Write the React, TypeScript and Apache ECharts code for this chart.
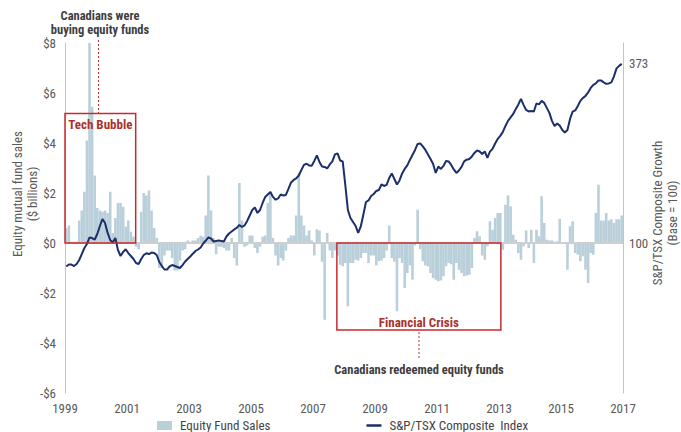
import React, { useEffect, useRef } from "react";
import * as echarts from "echarts";

// Years shown on the horizontal axis (axis values are years since 1999)
const BASE_YEAR = 1999;
const yearTickLabels = [1999, 2001, 2003, 2005, 2007, 2009, 2011, 2013, 2015, 2017];
const salesTickLabels = ["-$6", "-$4", "-$2", "$0", "$2", "$4", "$6", "$8"];
const indexTickLabels = [100, 373];

// Monthly equity mutual fund net sales ($ billions), Jan 1999 - Dec 2016
const sales1999 = [0.6, 0.7, 0.05, 0.05, 0.05, 0.9, 1.3, 2.05, 4.1, 8.0, 5.45, 2.7];
const sales2000 = [1.4, 1.3, 1.25, 1.3, 1.2, 2.05, 0.4, 1.0, 1.6, 1.6, 1.45, 0.65];
const sales2001 = [0.9, 0.45, 0.25, -0.15, -0.25, 1.25, 2.0, 1.9, 2.1, 1.3, 0.6, 0.2];
const sales2002 = [-1.0, -1.0, -0.5, -0.3, -0.3, -0.6, -1.1, -1.1, -0.7, -0.3, -0.25, 0.1];
const sales2003 = [0.05, 0.1, 0.1, 0.2, 0.3, 0.25, 1.1, 2.7, 1.3, 0.2, -0.45, -0.15];
const sales2004 = [-0.15, -0.2, -0.3, -0.3, 0.2, -0.6, -0.9, 2.4, 0.9, -0.15, -0.1, 0.3];
const sales2005 = [0.3, -0.2, -0.4, -0.15, 0.25, 0.3, 1.6, 2.05, 0.2, -0.5, -0.9, -0.6];
const sales2006 = [-0.7, -0.3, 0.2, 0.3, 0.3, 1.1, 2.8, 1.1, 0.7, 0.3, 0.5, 0.1];
const sales2007 = [-0.5, 0.55, 0.5, -0.75, -3.07, 0.4, -0.3, -0.6, -0.3, -0.5, -0.87, -0.93];
const sales2008 = [-0.8, -2.53, -0.8, -0.8, -0.67, -0.7, -0.6, -0.4, -0.4, -0.8, -0.5, -0.5];
const sales2009 = [-0.9, -0.73, -0.7, -0.6, -0.3, 0.7, -0.6, -0.75, -2.73, -0.6, -0.8, -1.8];
const sales2010 = [-1.2, -0.9, -1.47, -0.1, 1.33, -0.25, -0.73, -0.9, -0.93, -1.2, -1.4, -1.47];
const sales2011 = [-1.53, -1.5, -1.33, -0.93, -0.8, -0.85, -1.47, -0.8, -1.07, -1.2, -1.33, -1.3];
const sales2012 = [-1.27, -1.0, 0.2, 0.47, 0.27, -0.5, -0.67, -0.13, 0.87, 0.53, 1.0, 1.2];
const sales2013 = [1.2, -0.27, 1.53, 1.9, 1.47, 0.33, 0.13, -0.4, -0.67, -0.13, 0.5, -0.2];
const sales2014 = [0.53, -0.8, 0.53, 0.27, 1.87, 0.8, 0.13, 0.1, 0.1, 0.05, 0.07, 0.97];
const sales2015 = [0, 0, -1.07, 0.67, 0.87, -0.4, -0.47, -0.73, -0.53, -1.07, -1.6, -0.4];
const sales2016 = [-0.47, 1.2, 2.33, 0.9, 0.9, 1.2, 0.9, 0.95, 0.8, 0.95, 0.95, 1.1];

// Monthly S&P/TSX Composite growth (Base = 100)
const tsx1999 = [64.2, 67.2, 67.2, 64.9, 68.0, 74.1, 83.2, 92.4, 98.5, 108.4, 107.6, 105.3];
const tsx2000 = [113.7, 125.9, 136.6, 130.5, 115.3, 104.6, 100.8, 107.6, 89.3, 80.2, 86.3, 90.4];
const tsx2001 = [84.7, 80.2, 75.6, 69.5, 68.0, 75.6, 81.7, 84.3, 83.2, 85.5, 84.7, 81.7];
const tsx2002 = [71.0, 64.9, 59.6, 59.6, 64.2, 66.4, 64.9, 63.4, 61.9, 66.4, 71.8, 75.6];
const tsx2003 = [79.4, 83.7, 87.8, 90.1, 93.1, 99.2, 103.8, 108.7, 106.9, 102.3, 103.1, 103.8];
const tsx2004 = [103.1, 102.3, 109.9, 114.5, 117.5, 120.6, 122.9, 127.5, 124.4, 126.7, 133.6, 141.9];
const tsx2005 = [150.3, 154.1, 145.8, 150.3, 161.0, 170.2, 174.0, 177.8, 170.2, 166.0, 167.9, 174.0];
const tsx2006 = [172.4, 173.2, 182.4, 192.3, 196.1, 198.4, 202.9, 211.3, 219.0, 220.8, 218.2, 217.7];
const tsx2007 = [225.1, 233.4, 223.5, 216.7, 215.9, 213.6, 219.7, 224.3, 235.0, 236.5, 225.8, 224.3];
const tsx2008 = [188.5, 150.3, 138.1, 132.0, 125.9, 115.3, 125.2, 143.5, 162.5, 164.8, 171.7, 174.7];
const tsx2009 = [179.3, 180.8, 189.2, 186.9, 188.5, 199.1, 206.0, 197.6, 189.2, 195.3, 206.0, 212.9];
const tsx2010 = [218.2, 226.6, 234.2, 241.8, 251.0, 251.7, 247.2, 241.8, 235.0, 228.1, 220.5, 206.8];
const tsx2011 = [216.4, 212.9, 217.4, 225.1, 224.3, 219.0, 212.1, 206.8, 210.6, 215.9, 224.3, 227.0];
const tsx2012 = [228.1, 231.9, 237.3, 241.1, 239.5, 235.7, 239.5, 229.6, 239.2, 243.4, 251.7, 258.6];
const tsx2013 = [263.2, 269.3, 278.4, 286.1, 291.4, 296.7, 304.4, 311.2, 319.6, 310.5, 302.8, 300.5];
const tsx2014 = [301.3, 300.5, 312.7, 311.2, 316.6, 313.5, 305.9, 298.3, 286.1, 278.4, 282.2, 278.9];
const tsx2015 = [272.3, 268.5, 272.3, 289.1, 300.2, 302.1, 308.9, 316.6, 321.1, 324.2, 329.5, 336.4];
const tsx2016 = [341.0, 343.2, 347.8, 347.8, 344.8, 342.5, 343.2, 344.8, 353.9, 366.1, 369.9, 373.0];

const fundSales = [
  ...sales1999, ...sales2000, ...sales2001, ...sales2002, ...sales2003, ...sales2004,
  ...sales2005, ...sales2006, ...sales2007, ...sales2008, ...sales2009, ...sales2010,
  ...sales2011, ...sales2012, ...sales2013, ...sales2014, ...sales2015, ...sales2016,
];
const tsxIndex = [
  ...tsx1999, ...tsx2000, ...tsx2001, ...tsx2002, ...tsx2003, ...tsx2004,
  ...tsx2005, ...tsx2006, ...tsx2007, ...tsx2008, ...tsx2009, ...tsx2010,
  ...tsx2011, ...tsx2012, ...tsx2013, ...tsx2014, ...tsx2015, ...tsx2016,
];

// Annotated periods (years since 1999, $ billions)
const techBubble = { start: 0, end: 2.28, top: 5.18 };
const financialCrisis = { start: 8.77, end: 14.06, bottom: -3.48 };

// Right-axis scaling: index points per $1 billion on the left axis, 100 aligned with $0
const INDEX_PER_BILLION = 38.1;
const SALES_MIN = -6;
const SALES_MAX = 8;
const toIndexScale = (billions: number) => 100 + billions * INDEX_PER_BILLION;

const FONT = "'Liberation Sans Narrow', 'Arial Narrow', 'Roboto Condensed', Roboto, sans-serif";
const BAR_COLOR = "#b9cfda";
const LINE_COLOR = "#1c2f6b";
const RED = "#c62a2f";
const RED_TEXT = "#a9332c";
const GREY_TEXT = "#5a5a5a";
const DARK_TEXT = "#3e3e3e";
const AXIS_GREY = "#c4c4c4";

export default function App() {
  const ref = useRef<HTMLDivElement>(null);

  useEffect(() => {
    if (!ref.current) return;
    const chart = echarts.init(ref.current, null, { renderer: "svg" });

    const barData = fundSales.map((v, i) => [(i + 0.5) / 12, v]);
    const lineData = tsxIndex.map((v, i) => [(i + 0.5) / 12, v]);

    chart.setOption({
      animation: false,
      textStyle: { fontFamily: FONT },
      grid: { left: 65, right: 58, top: 43, bottom: 39, containLabel: false },
      legend: {
        left: 152,
        top: 414,
        itemGap: 96,
        itemWidth: 15,
        itemHeight: 9,
        textStyle: { fontFamily: FONT, fontSize: 13, color: "#444", padding: [0, 0, 0, 3] },
        data: [
          { name: "Equity Fund Sales", icon: "rect" },
          { name: "S&P/TSX Composite  Index", icon: "path://M0,0 L30,0 L30,5 L0,5 Z" },
        ],
      },
      xAxis: {
        type: "value",
        min: 0,
        max: 18,
        interval: 2,
        axisLine: { show: false },
        axisTick: { show: false },
        splitLine: { show: false },
        axisLabel: {
          margin: 9,
          fontSize: 13,
          color: GREY_TEXT,
          fontFamily: FONT,
          formatter: (v: number) => {
            const y = BASE_YEAR + Math.round(v);
            return yearTickLabels.includes(y) ? String(y) : "";
          },
        },
      },
      yAxis: [
        {
          type: "value",
          min: SALES_MIN,
          max: SALES_MAX,
          interval: 2,
          axisLine: { show: true, lineStyle: { color: AXIS_GREY, width: 1 } },
          axisTick: { show: false },
          splitLine: { show: false },
          axisLabel: {
            margin: 9,
            fontSize: 13,
            color: GREY_TEXT,
            fontFamily: FONT,
            formatter: (v: number) => salesTickLabels[Math.round((v - SALES_MIN) / 2)] ?? "",
          },
        },
        {
          type: "value",
          position: "right",
          min: toIndexScale(SALES_MIN),
          max: toIndexScale(SALES_MAX),
          axisLine: { show: true, lineStyle: { color: AXIS_GREY, width: 1 } },
          axisTick: { show: false },
          splitLine: { show: false },
          axisLabel: {
            customValues: indexTickLabels,
            margin: 6,
            fontSize: 13,
            color: GREY_TEXT,
            fontFamily: FONT,
            formatter: (v: number) => String(Math.round(v)),
          },
        },
      ],
      series: [
        {
          name: "Equity Fund Sales",
          type: "bar",
          yAxisIndex: 0,
          data: barData,
          barWidth: 2.6,
          itemStyle: { color: BAR_COLOR },
          z: 2,
          markLine: {
            silent: true,
            symbol: "none",
            label: { show: false },
            lineStyle: { color: "#cfcfcf", width: 2, type: "solid" },
            data: [{ yAxis: 0 }],
          },
        },
        {
          name: "S&P/TSX Composite  Index",
          type: "line",
          yAxisIndex: 1,
          data: lineData,
          showSymbol: false,
          symbol: "none",
          lineStyle: { color: LINE_COLOR, width: 2 },
          itemStyle: { color: LINE_COLOR },
          z: 5,
          markArea: {
            silent: true,
            z: 10,
            itemStyle: { color: "rgba(0,0,0,0)", borderColor: RED, borderWidth: 1.5 },
            label: {
              fontFamily: FONT,
              fontSize: 13,
              fontWeight: "bold",
              color: RED_TEXT,
            },
            data: [
              [
                {
                  name: "Tech Bubble",
                  xAxis: techBubble.start,
                  yAxis: toIndexScale(techBubble.top),
                  label: { position: "insideTop", distance: 5 },
                },
                { xAxis: techBubble.end, yAxis: toIndexScale(0) },
              ],
              [
                {
                  name: "Financial Crisis",
                  xAxis: financialCrisis.start,
                  yAxis: toIndexScale(0),
                  label: { position: "insideBottom", distance: 2 },
                },
                { xAxis: financialCrisis.end, yAxis: toIndexScale(financialCrisis.bottom) },
              ],
            ],
          },
        },
      ],
      graphic: [
        {
          type: "text",
          x: 100,
          y: 22,
          style: {
            text: "Canadians were\nbuying equity funds",
            align: "center",
            verticalAlign: "middle",
            fontFamily: FONT,
            fontSize: 12.5,
            fontWeight: "bold",
            lineHeight: 14,
            fill: DARK_TEXT,
          },
        },
        {
          type: "line",
          shape: { x1: 98.5, y1: 40, x2: 98.5, y2: 113 },
          style: { stroke: RED, lineWidth: 1, lineDash: [2, 2] },
        },
        {
          type: "line",
          shape: { x1: 419, y1: 332, x2: 419, y2: 359 },
          style: { stroke: RED, lineWidth: 1, lineDash: [2, 2] },
        },
        {
          type: "text",
          x: 419,
          y: 369,
          style: {
            text: "Canadians redeemed equity funds",
            align: "center",
            verticalAlign: "middle",
            fontFamily: FONT,
            fontSize: 12.5,
            fontWeight: "bold",
            fill: DARK_TEXT,
          },
        },
        {
          type: "text",
          x: 25,
          y: 194,
          rotation: Math.PI / 2,
          style: {
            text: "Equity mutual fund sales\n($ billions)",
            align: "center",
            verticalAlign: "middle",
            fontFamily: FONT,
            fontSize: 13,
            lineHeight: 15,
            fill: GREY_TEXT,
          },
        },
        {
          type: "text",
          x: 665,
          y: 213,
          rotation: Math.PI / 2,
          style: {
            text: "S&P/TSX Composite Growth\n(Base = 100)",
            align: "center",
            verticalAlign: "middle",
            fontFamily: FONT,
            fontSize: 13,
            lineHeight: 15,
            fill: GREY_TEXT,
          },
        },
      ],
    });

    return () => chart.dispose();
  }, []);

  return (
    <div
      ref={ref}
      style={{ position: "fixed", left: 0, top: 0, width: 681, height: 432, background: "#fff" }}
    />
  );
}
